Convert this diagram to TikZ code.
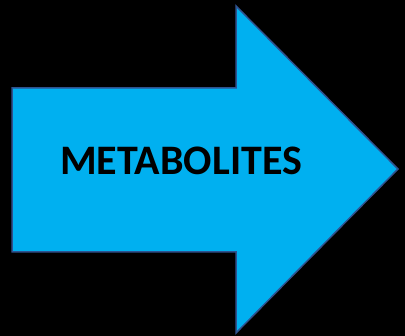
\documentclass[tikz,border=0pt]{standalone}
\usepackage{fontspec}
\setmainfont{Carlito}
\usetikzlibrary{positioning}

\definecolor{arrowfill}{HTML}{00B0F0}
\definecolor{arrowline}{HTML}{2F528F}

\begin{document}
\begin{tikzpicture}[
    x=1pt, y=-1pt,
    bigarrow/.style={
        fill=arrowfill,
        draw=arrowline,
        line width=1.5pt,
        line join=miter
    },
    label/.style={
        font=\fontsize{42}{42}\selectfont\bfseries,
        text=black
    }
]

\fill[black] (0,0) rectangle (405,336);
\useasboundingbox (0,0) rectangle (405,336);

\draw[bigarrow] (12,88) -- (236,88) -- (236,6) -- (398,169)
    -- (236,333) -- (236,252) -- (12,252) -- cycle;

\node[label] (metabolites) at (181,161) {METABOLITES};

\end{tikzpicture}
\end{document}
